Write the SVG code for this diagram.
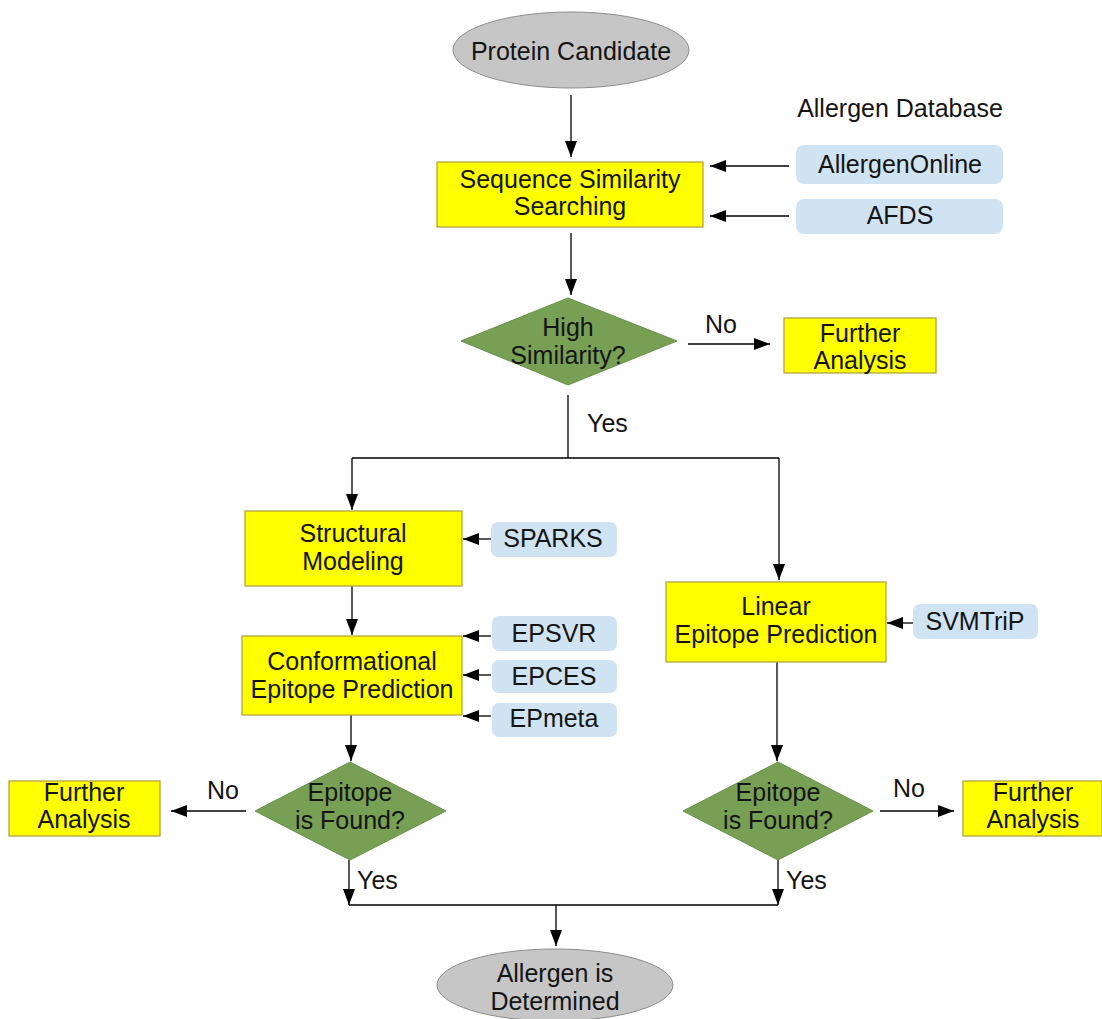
<svg xmlns="http://www.w3.org/2000/svg" width="1102" height="1019" viewBox="0 0 1102 1019">
<defs>
<marker id="ah" viewBox="0 0 16 12" refX="16" refY="6" markerWidth="16" markerHeight="12" markerUnits="userSpaceOnUse" orient="auto">
<path d="M0,0 L16,6 L0,12 z" fill="#000"/>
</marker>
<style>
text{font-family:"Liberation Sans",Arial,sans-serif;font-size:25px;fill:#141414;text-anchor:middle}
.lbl{text-anchor:start}
.term{fill:#c6c6c6;stroke:#8c8c8c;stroke-width:1}
.proc{fill:#ffff00;stroke:#b3a346;stroke-width:1.3}
.dec{fill:#77a055;stroke:#66904a;stroke-width:1}
.tool{fill:#d0e3f2;stroke:none}
.conn line,.conn path{stroke:#000;stroke-width:1.3;fill:none}
.arr{marker-end:url(#ah)}
</style>
</defs>
<rect width="1102" height="1019" fill="#fff"/>

<g class="conn">
<line class="arr" x1="571" y1="95" x2="571" y2="157"/>
<line class="arr" x1="789" y1="166" x2="710" y2="166"/>
<line class="arr" x1="789" y1="216" x2="710" y2="216"/>
<line class="arr" x1="571" y1="233" x2="571" y2="295"/>
<line class="arr" x1="688" y1="344" x2="770" y2="344"/>
<path d="M568,395 V458 M352,458 H779"/>
<line class="arr" x1="352" y1="458" x2="352" y2="510"/>
<line class="arr" x1="779" y1="458" x2="779" y2="580"/>
<line class="arr" x1="491" y1="539" x2="463" y2="539"/>
<line class="arr" x1="352" y1="586" x2="352" y2="635"/>
<line class="arr" x1="491" y1="636" x2="463" y2="636"/>
<line class="arr" x1="491" y1="675" x2="463" y2="675"/>
<line class="arr" x1="491" y1="716" x2="463" y2="716"/>
<line class="arr" x1="913" y1="623" x2="887" y2="623"/>
<line class="arr" x1="351" y1="715" x2="351" y2="761"/>
<line class="arr" x1="777" y1="662" x2="777" y2="761"/>
<line class="arr" x1="246" y1="811" x2="171" y2="811"/>
<line class="arr" x1="880" y1="811" x2="954" y2="811"/>
<line class="arr" x1="349" y1="860" x2="349" y2="905"/>
<line class="arr" x1="778" y1="860" x2="778" y2="905"/>
<path d="M349,905 H778"/>
<line class="arr" x1="556" y1="905" x2="556" y2="946"/>
<text class="lbl" x="705" y="333">No</text>
<text class="lbl" x="587" y="432">Yes</text>
<text class="lbl" x="207" y="799">No</text>
<text class="lbl" x="893" y="797">No</text>
<text class="lbl" x="357" y="889">Yes</text>
<text class="lbl" x="786" y="889">Yes</text>
</g>

<g id="protein-candidate">
<ellipse class="term" cx="571" cy="50" rx="118" ry="38"/>
<text x="571" y="60">Protein Candidate</text>
</g>

<g id="allergen-database">
<text x="900" y="117">Allergen Database</text>
</g>

<g id="sequence-similarity">
<rect class="proc" x="437" y="162" width="266" height="65"/>
<text x="570" y="188">Sequence Similarity</text>
<text x="570" y="215">Searching</text>
</g>

<g id="allergenonline">
<rect class="tool" x="796" y="145" width="207" height="39" rx="8"/>
<text x="900" y="173">AllergenOnline</text>
</g>

<g id="afds">
<rect class="tool" x="796" y="199" width="207" height="35" rx="8"/>
<text x="900" y="224">AFDS</text>
</g>

<g id="high-similarity">
<polygon class="dec" points="568,298 677,341 568,385 461,341"/>
<text x="568" y="336">High</text>
<text x="568" y="364">Similarity?</text>
</g>

<g id="further-analysis-top">
<rect class="proc" x="784" y="318" width="152" height="55"/>
<text x="860" y="342">Further</text>
<text x="860" y="369">Analysis</text>
</g>

<g id="structural-modeling">
<rect class="proc" x="245" y="511" width="217" height="75"/>
<text x="353" y="542">Structural</text>
<text x="353" y="570">Modeling</text>
</g>

<g id="sparks">
<rect class="tool" x="491" y="522" width="126" height="35" rx="7"/>
<text x="553" y="547">SPARKS</text>
</g>

<g id="conformational">
<rect class="proc" x="242" y="636" width="220" height="79"/>
<text x="352" y="670">Conformational</text>
<text x="352" y="698">Epitope Prediction</text>
</g>

<g id="epsvr">
<rect class="tool" x="492" y="616" width="125" height="35" rx="7"/>
<text x="554" y="642">EPSVR</text>
</g>

<g id="epces">
<rect class="tool" x="492" y="660" width="125" height="33" rx="7"/>
<text x="554" y="685">EPCES</text>
</g>

<g id="epmeta">
<rect class="tool" x="492" y="703" width="125" height="34" rx="7"/>
<text x="554" y="727">EPmeta</text>
</g>

<g id="linear">
<rect class="proc" x="666" y="582" width="220" height="80"/>
<text x="776" y="615">Linear</text>
<text x="776" y="643">Epitope Prediction</text>
</g>

<g id="svmtrip">
<rect class="tool" x="913" y="604" width="125" height="35" rx="7"/>
<text x="975" y="630">SVMTriP</text>
</g>

<g id="epitope-left">
<polygon class="dec" points="350,762 446,811 350,860 255,811"/>
<text x="350" y="801">Epitope</text>
<text x="350" y="829">is Found?</text>
</g>

<g id="further-analysis-left">
<rect class="proc" x="9" y="781" width="151" height="55"/>
<text x="84" y="801">Further</text>
<text x="84" y="828">Analysis</text>
</g>

<g id="epitope-right">
<polygon class="dec" points="778,762 873,811 778,860 683,811"/>
<text x="778" y="801">Epitope</text>
<text x="778" y="829">is Found?</text>
</g>

<g id="further-analysis-right">
<rect class="proc" x="963" y="781" width="139" height="55"/>
<text x="1033" y="801">Further</text>
<text x="1033" y="828">Analysis</text>
</g>

<g id="allergen-determined">
<ellipse class="term" cx="555" cy="985" rx="118" ry="36"/>
<text x="555" y="982">Allergen is</text>
<text x="555" y="1010">Determined</text>
</g>
</svg>
